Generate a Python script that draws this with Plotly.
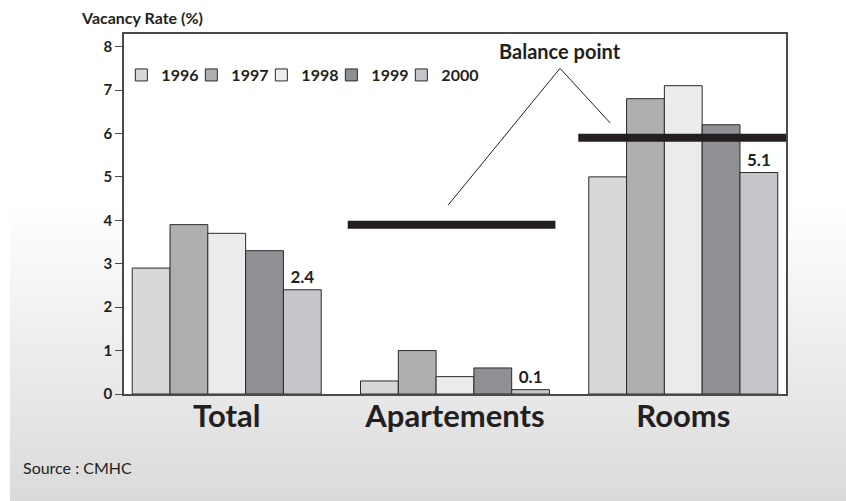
import plotly.graph_objects as go

# Vacancy rates (%) by housing type, 1996-2000
categories = ["Total", "Apartements", "Rooms"]
years = ["1996", "1997", "1998", "1999", "2000"]
rate_1996 = [2.9, 0.3, 5.0]
rate_1997 = [3.9, 1.0, 6.8]
rate_1998 = [3.7, 0.4, 7.1]
rate_1999 = [3.3, 0.6, 6.2]
rate_2000 = [2.4, 0.1, 5.1]
balance_apartements = 3.9
balance_rooms = 5.9
y_ticks = [0, 1, 2, 3, 4, 5, 6, 7, 8]

series = [rate_1996, rate_1997, rate_1998, rate_1999, rate_2000]
colors = ["#d7d8da", "#aeafb1", "#ececec", "#8f9093", "#c5c6c9"]

FONT = "Lato"
INK = "#231f20"

fig = go.Figure()
for year, vals, col in zip(years, series, colors):
    is_last = year == years[-1]
    fig.add_trace(go.Bar(
        name=year, x=categories, y=vals,
        marker=dict(color=col, line=dict(color="#2a2a2a", width=1)),
        text=[f"{v:.1f}" for v in vals] if is_last else None,
        textposition="outside" if is_last else None,
        textfont=dict(family=FONT, size=17, color=INK, weight="bold"),
        cliponaxis=False,
        legendwidth=45 if is_last else 25,
    ))

shapes = []
# Soft grey gradient panel behind the lower part of the chart
top_px, bot_px, left_px = 205, 501, 10
plot_left, plot_w, plot_bottom, plot_h = 124, 662, 394, 360
n = 75
step = (bot_px - top_px) / n
for i in range(n):
    y0 = top_px + i * step
    y1 = y0 + step + 0.6
    t = (i + 0.5) / n
    g = int(round(255 - (255 - 218) * t))
    shapes.append(dict(
        type="rect", xref="paper", yref="paper", layer="below",
        x0=(left_px - plot_left) / plot_w, x1=(846 - plot_left) / plot_w,
        y0=(plot_bottom - y1) / plot_h, y1=(plot_bottom - y0) / plot_h,
        fillcolor=f"rgb({g},{g},{g})", line=dict(width=0)))
# White plotting area on top of the gradient
shapes.append(dict(type="rect", xref="x domain", yref="y domain", layer="below",
                   x0=0, x1=1, y0=0, y1=1, fillcolor="white", line=dict(width=0)))

# Balance point bars
shapes.append(dict(type="line", xref="x", yref="y", x0=0.53, x1=1.44,
                   y0=balance_apartements, y1=balance_apartements,
                   line=dict(color=INK, width=8)))
shapes.append(dict(type="line", xref="x", yref="y", x0=1.54, x1=2.45,
                   y0=balance_rooms, y1=balance_rooms,
                   line=dict(color=INK, width=8)))
# Leader lines from the "Balance point" label
shapes.append(dict(type="line", xref="x", yref="y", x0=1.46, y0=7.5, x1=0.97, y1=4.35,
                   line=dict(color=INK, width=1)))
shapes.append(dict(type="line", xref="x", yref="y", x0=1.46, y0=7.5, x1=1.68, y1=6.24,
                   line=dict(color=INK, width=1)))

annotations = [
    dict(text="Balance point", xref="x", yref="y", x=1.46, y=7.58,
         xanchor="center", yanchor="bottom", showarrow=False,
         font=dict(family=FONT, size=20, color=INK, weight="bold")),
    dict(text="Vacancy Rate (%)", xref="paper", yref="paper",
         x=(79 - plot_left) / plot_w, y=(plot_bottom - 18) / plot_h,
         xanchor="left", yanchor="middle", showarrow=False,
         font=dict(family=FONT, size=16, color=INK, weight="bold")),
    dict(text="Source : CMHC", xref="paper", yref="paper",
         x=(21 - plot_left) / plot_w, y=(plot_bottom - 467) / plot_h,
         xanchor="left", yanchor="middle", showarrow=False,
         font=dict(family=FONT, size=16, color=INK)),
]

axis_line = "#4a4a4a"
fig.update_layout(
    width=846, height=501,
    margin=dict(l=124, r=60, t=34, b=107),
    paper_bgcolor="white", plot_bgcolor="rgba(0,0,0,0)",
    barmode="group", bargap=0.172, bargroupgap=0,
    font=dict(family=FONT, color=INK),
    shapes=shapes, annotations=annotations,
    legend=dict(orientation="h", x=-0.004, y=0.886, xanchor="left", yanchor="middle",
                bgcolor="rgba(0,0,0,0)",
                font=dict(family=FONT, size=16, color=INK, weight="bold")),
    xaxis=dict(range=[-0.45, 2.45], showgrid=False, ticks="",
               showline=True, linecolor=axis_line, linewidth=1.5, mirror=True,
               ticklabelstandoff=-6,
               tickfont=dict(family=FONT, size=31, color=INK, weight="bold")),
    yaxis=dict(range=[0, 8.29], tickvals=y_ticks, showgrid=False, zeroline=False,
               ticks="outside", ticklen=7, tickcolor=axis_line,
               showline=True, linecolor=axis_line, linewidth=1.5, mirror=True,
               tickfont=dict(family=FONT, size=15, color=INK, weight="bold")),
)

fig.write_html("out.html")
